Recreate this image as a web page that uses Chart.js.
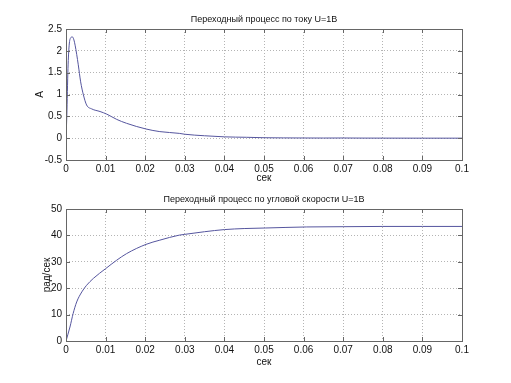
<!DOCTYPE html>
<html><head><meta charset="utf-8">
<script src="https://cdn.jsdelivr.net/npm/chart.js@4"></script>
<style>
html,body{margin:0;padding:0;background:#fff;width:511px;height:383px;overflow:hidden}
.box{position:absolute;left:0;width:511px}
#b1{top:0;height:190px}
#b2{top:180px;height:203px}
</style></head><body>
<div class="box" id="b1"><canvas id="c1"></canvas></div>
<div class="box" id="b2"><canvas id="c2"></canvas></div>
<script>
// ---- data ----
const timeCurrent = [0, 0.0002, 0.0005, 0.0008, 0.0012, 0.0016, 0.002, 0.0023, 0.0027, 0.0031, 0.0037, 0.0044, 0.0052, 0.0065, 0.0086, 0.0103, 0.0128, 0.0153, 0.0202, 0.0237, 0.0286, 0.030, 0.035, 0.040, 0.0456, 0.050, 0.055, 0.060, 0.065, 0.070, 0.075, 0.080, 0.090, 0.100];
const current     = [0, 0.5, 1.6, 2.13, 2.3, 2.32, 2.25, 2.13, 1.92, 1.68, 1.29, 0.99, 0.76, 0.67, 0.61, 0.55, 0.43, 0.34, 0.21, 0.15, 0.11, 0.09, 0.055, 0.03, 0.02, 0.01, 0.006, 0.004, 0.003, 0.004, 0.002, 0.001, 0.0, 0.0];
const timeSpeed = [0, 0.001, 0.0018, 0.0027, 0.004, 0.0052, 0.0069, 0.010, 0.0128, 0.0153, 0.0202, 0.0237, 0.0286, 0.030, 0.035, 0.040, 0.045, 0.0503, 0.0608, 0.070, 0.080, 0.090, 0.100];
const speed     = [0, 5.3, 10.4, 14.8, 18.6, 21.1, 23.7, 27.4, 30.6, 33.1, 36.6, 38.2, 40.1, 40.4, 41.4, 42.2, 42.6, 42.8, 43.2, 43.3, 43.4, 43.4, 43.4];
const xTickValues = [0, 0.01, 0.02, 0.03, 0.04, 0.05, 0.06, 0.07, 0.08, 0.09, 0.1];
const xTickLabels = ['0', '0.01', '0.02', '0.03', '0.04', '0.05', '0.06', '0.07', '0.08', '0.09', '0.1'];
const yTicksCurrent  = [-0.5, 0, 0.5, 1, 1.5, 2, 2.5];
const yLabelsCurrent = ['-0.5', '0', '0.5', '1', '1.5', '2', '2.5'];
const yTicksSpeed  = [0, 10, 20, 30, 40, 50];
const yLabelsSpeed = ['0', '10', '20', '30', '40', '50'];
const titleCurrent = 'Переходный процесс по току U=1В';
const titleSpeed = 'Переходный процесс по угловой скорости U=1В';
const xAxisTitle = 'сек';
const yTitleCurrent = 'А';
const yTitleSpeed = 'рад/сек';

const FONT = 'Liberation Sans, Arial, sans-serif';
const TXT = '#111';
const FRAME = '#666';

const framePlugin = {
  id: 'frame',
  afterDatasetsDraw(chart) {
    const {ctx, chartArea: a, scales: {x, y}} = chart;
    ctx.save();
    ctx.strokeStyle = FRAME;
    ctx.lineWidth = 1;
    ctx.strokeRect(a.left + 0.5, a.top + 0.5, a.right - a.left, a.bottom - a.top);
    ctx.beginPath();
    x.ticks.forEach(t => {
      const p = Math.round(x.getPixelForValue(t.value)) + 0.5;
      ctx.moveTo(p, a.bottom); ctx.lineTo(p, a.bottom - 4);
      ctx.moveTo(p, a.top); ctx.lineTo(p, a.top + 4);
    });
    y.ticks.forEach(t => {
      const p = Math.round(y.getPixelForValue(t.value)) + 0.5;
      ctx.moveTo(a.left, p); ctx.lineTo(a.left + 4, p);
      ctx.moveTo(a.right, p); ctx.lineTo(a.right - 4, p);
    });
    ctx.stroke();
    ctx.restore();
  }
};

function makeChart(id, xs, ys, yTicks, yLabels, title, yTitle, yTitlePad, xTitlePad, xHeight) {
  return new Chart(document.getElementById(id), {
    type: 'line',
    data: {
      datasets: [{
        data: xs.map((t, i) => ({x: t, y: ys[i]})),
        borderColor: '#55559e',
        borderWidth: 1,
        pointRadius: 0,
        cubicInterpolationMode: 'monotone',
        fill: false
      }]
    },
    options: {
      responsive: true,
      maintainAspectRatio: false,
      animation: false,
      layout: {padding: {left: 0, right: 49, top: 0, bottom: 0}},
      plugins: {
        legend: {display: false},
        tooltip: {enabled: false},
        title: {
          display: true, text: title, color: TXT, fullSize: false,
          font: {family: FONT, size: 9, weight: 'normal'},
          padding: {top: 14.6, bottom: 3.6}
        }
      },
      scales: {
        x: {
          type: 'linear', min: 0, max: 0.1,
          afterBuildTicks: s => { s.ticks = xTickValues.map(v => ({value: v})); },
          afterFit: s => { s.height = xHeight; },
          ticks: {
            color: TXT, font: {family: FONT, size: 10}, padding: 3, maxRotation: 0, autoSkip: false,
            callback: (v, i) => xTickLabels[i]
          },
          grid: {color: '#b4b4b4', lineWidth: 1, drawTicks: false},
          border: {display: false, dash: [1, 2]},
          title: {display: true, text: xAxisTitle, color: TXT, font: {family: FONT, size: 10}, padding: {top: 0, bottom: xTitlePad}}
        },
        y: {
          type: 'linear', min: yTicks[0], max: yTicks[yTicks.length - 1],
          afterBuildTicks: s => { s.ticks = yTicks.map(v => ({value: v})); },
          afterFit: s => { s.width = 66; },
          ticks: {
            color: TXT, font: {family: FONT, size: 10}, padding: 4, autoSkip: false,
            callback: (v, i) => yLabels[i]
          },
          grid: {color: '#b4b4b4', lineWidth: 1, drawTicks: false},
          border: {display: false, dash: [1, 2]},
          title: {display: true, text: yTitle, color: TXT, font: {family: FONT, size: 10}, padding: {top: yTitlePad, bottom: 0}}
        }
      }
    },
    plugins: [framePlugin]
  });
}

makeChart('c1', timeCurrent, current, yTicksCurrent, yLabelsCurrent, titleCurrent, yTitleCurrent, 34, 6, 30);
makeChart('c2', timeSpeed, speed, yTicksSpeed, yLabelsSpeed, titleSpeed, yTitleSpeed, 41, 15, 42);
</script>
</body></html>
